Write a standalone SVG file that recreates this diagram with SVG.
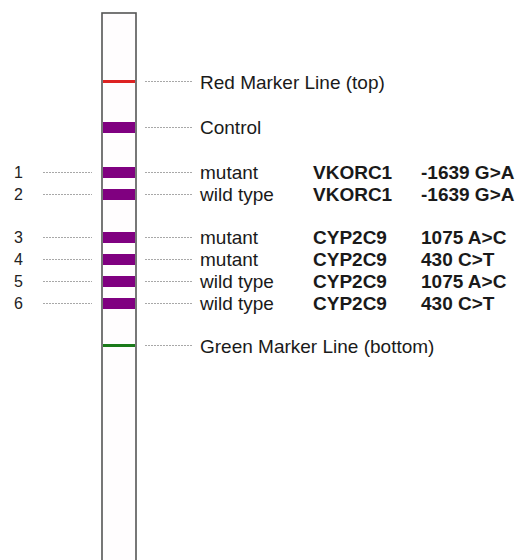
<svg xmlns="http://www.w3.org/2000/svg" width="521" height="560" viewBox="0 0 521 560">
  <style>
    .lbl { font-family: "Liberation Sans", Arial, sans-serif; font-size: 19px; fill: #1a1a1a; }
    .b { font-weight: bold; }
    .num { font-family: "Liberation Sans", Arial, sans-serif; font-size: 16px; fill: #222; }
    .lead { stroke: #a8a8a8; stroke-width: 1; stroke-dasharray: 2 1; fill: none; }
    .band { fill: #800080; }
  </style>
  <rect width="521" height="560" fill="#ffffff"/>

  <!-- test strip -->
  <g id="strip">
    <rect x="102" y="13" width="34" height="560" fill="#fffdfe" stroke="#555555" stroke-width="1.6"/>
  </g>

  <!-- leader lines -->
  <g id="connectors">
    <line class="lead" x1="145" y1="81.5" x2="193" y2="81.5"/>
    <line class="lead" x1="145" y1="127.5" x2="193" y2="127.5"/>
    <line class="lead" x1="43" y1="172.5" x2="92" y2="172.5"/>
    <line class="lead" x1="145" y1="172.5" x2="193" y2="172.5"/>
    <line class="lead" x1="43" y1="194.5" x2="92" y2="194.5"/>
    <line class="lead" x1="145" y1="194.5" x2="193" y2="194.5"/>
    <line class="lead" x1="43" y1="237.5" x2="92" y2="237.5"/>
    <line class="lead" x1="145" y1="237.5" x2="193" y2="237.5"/>
    <line class="lead" x1="43" y1="259.5" x2="92" y2="259.5"/>
    <line class="lead" x1="145" y1="259.5" x2="193" y2="259.5"/>
    <line class="lead" x1="43" y1="281.5" x2="92" y2="281.5"/>
    <line class="lead" x1="145" y1="281.5" x2="193" y2="281.5"/>
    <line class="lead" x1="43" y1="303.5" x2="92" y2="303.5"/>
    <line class="lead" x1="145" y1="303.5" x2="193" y2="303.5"/>
    <line class="lead" x1="145" y1="345.5" x2="193" y2="345.5"/>
  </g>

  <g id="red-marker">
    <rect x="103" y="80" width="32" height="3" fill="#dd2222"/>
    <text class="lbl" x="200" y="88.5">Red Marker Line (top)</text>
  </g>

  <g id="control">
    <rect class="band" x="103" y="122" width="32" height="11"/>
    <text class="lbl" x="200" y="134">Control</text>
  </g>

  <g id="band-1">
    <rect class="band" x="103" y="167" width="32" height="11"/>
    <text class="num" x="14" y="178">1</text>
    <text class="lbl" x="200" y="179">mutant</text>
    <text class="lbl b" x="313" y="179">VKORC1</text>
    <text class="lbl b" x="421" y="179">-1639 G&gt;A</text>
  </g>

  <g id="band-2">
    <rect class="band" x="103" y="189" width="32" height="11"/>
    <text class="num" x="14" y="200">2</text>
    <text class="lbl" x="200" y="201">wild type</text>
    <text class="lbl b" x="313" y="201">VKORC1</text>
    <text class="lbl b" x="421" y="201">-1639 G&gt;A</text>
  </g>

  <g id="band-3">
    <rect class="band" x="103" y="232" width="32" height="11"/>
    <text class="num" x="14" y="243">3</text>
    <text class="lbl" x="200" y="244">mutant</text>
    <text class="lbl b" x="313" y="244">CYP2C9</text>
    <text class="lbl b" x="421" y="244">1075 A&gt;C</text>
  </g>

  <g id="band-4">
    <rect class="band" x="103" y="254" width="32" height="11"/>
    <text class="num" x="14" y="265">4</text>
    <text class="lbl" x="200" y="266">mutant</text>
    <text class="lbl b" x="313" y="266">CYP2C9</text>
    <text class="lbl b" x="421" y="266">430 C&gt;T</text>
  </g>

  <g id="band-5">
    <rect class="band" x="103" y="276" width="32" height="11"/>
    <text class="num" x="14" y="287">5</text>
    <text class="lbl" x="200" y="288">wild type</text>
    <text class="lbl b" x="313" y="288">CYP2C9</text>
    <text class="lbl b" x="421" y="288">1075 A&gt;C</text>
  </g>

  <g id="band-6">
    <rect class="band" x="103" y="298" width="32" height="11"/>
    <text class="num" x="14" y="309">6</text>
    <text class="lbl" x="200" y="310">wild type</text>
    <text class="lbl b" x="313" y="310">CYP2C9</text>
    <text class="lbl b" x="421" y="310">430 C&gt;T</text>
  </g>

  <g id="green-marker">
    <rect x="103" y="344" width="32" height="3" fill="#1a7a1a"/>
    <text class="lbl" x="200" y="352.5">Green Marker Line (bottom)</text>
  </g>
</svg>
